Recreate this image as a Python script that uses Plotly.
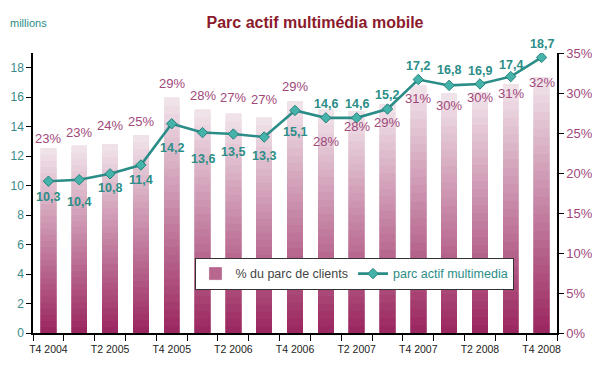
import plotly.graph_objects as go

# ---------------- data ----------------
quarters = ["T4 2004", "T1 2005", "T2 2005", "T3 2005", "T4 2005", "T1 2006", "T2 2006",
            "T3 2006", "T4 2006", "T1 2007", "T2 2007", "T3 2007", "T4 2007", "T1 2008",
            "T2 2008", "T3 2008", "T4 2008"]
tick_labels = ["T4 2004", "", "T2 2005", "", "T4 2005", "", "T2 2006", "", "T4 2006", "",
               "T2 2007", "", "T4 2007", "", "T2 2008", "", "T4 2008"]
pct_parc = [23.1, 23.4, 23.6, 24.7, 29.4, 27.9, 27.4, 26.9, 29.0, 27.9, 27.7, 28.6, 30.9,
            30.0, 30.1, 31.1, 32.0]
parc_multimedia = [10.3, 10.4, 10.8, 11.4, 14.2, 13.6, 13.5, 13.3, 15.1, 14.6, 14.6, 15.2,
                   17.2, 16.8, 16.9, 17.4, 18.7]

# ---------------- styles ----------------
pct_label_shift = [10, 13, 19, 14, 14, 14, 16, 18, 15, -32, -15, -18, -13, -12, -5, -9, -5]
line_label_shift = [-16, -22, -14, -15, -24, -26, -18, -19, -22, 14, 14, 14, 14, 15, 13, 12, 13]

TEAL = "#2b8d87"
MAUVE = "#a0487a"
N_SLICES = 30
top_rgb = (240, 226, 233)
bot_rgb = (155, 40, 96)

# page body has an 8px margin: figure is shrunk so the visible layout matches
W, H = 592, 364

fig = go.Figure()

# gradient bars: stacked slices of each bar, drawn through the bar scale
for k in range(N_SLICES):
    t = k / (N_SLICES - 1)
    c = "rgb(%d,%d,%d)" % tuple(round(bot_rgb[i] + (top_rgb[i] - bot_rgb[i]) * t) for i in range(3))
    fig.add_trace(go.Bar(
        x=quarters, y=[v / N_SLICES for v in pct_parc],
        marker=dict(color=c, line=dict(width=0.8, color=c)),
        width=0.5, yaxis="y",
        name="<span style='color:#444'>% du parc de clients</span>",
        showlegend=(k == 10), legendgroup="bars", hoverinfo="skip",
    ))

fig.add_trace(go.Scatter(
    x=quarters, y=parc_multimedia, yaxis="y2", mode="lines+markers",
    line=dict(color=TEAL, width=2.6),
    marker=dict(symbol="diamond", size=8, color="#45b3aa", line=dict(color="#26807a", width=1)),
    name="<span style='color:%s'>parc actif multimedia</span>" % TEAL,
))

annotations = []
for q, v, s in zip(quarters, pct_parc, pct_label_shift):
    annotations.append(dict(x=q, y=v, xref="x", yref="y", text="%d%%" % round(v),
                            showarrow=False, yshift=s,
                            font=dict(family="Liberation Sans, Arial", size=13, color=MAUVE)))
for q, v, s in zip(quarters, parc_multimedia, line_label_shift):
    annotations.append(dict(x=q, y=v, xref="x", yref="y2",
                            text="<b>" + ("%.1f" % v).replace(".", ",") + "</b>",
                            showarrow=False, yshift=s,
                            font=dict(family="Liberation Sans, Arial", size=12.5, color=TEAL)))
annotations.append(dict(x=-0.048, y=1.107, xref="paper", yref="paper", xanchor="left",
                        yanchor="middle", text="millions", showarrow=False,
                        font=dict(family="Liberation Sans, Arial", size=11, color=TEAL)))

fig.update_layout(
    width=W, height=H,
    margin=dict(l=25, r=43, t=45, b=39),
    paper_bgcolor="white", plot_bgcolor="white",
    barmode="stack",
    title=dict(text="<b>Parc actif multimédia mobile</b>", x=307 / W, xref="container",
               y=1 - 14 / H, yref="container", xanchor="center", yanchor="middle",
               font=dict(family="Liberation Sans, Arial", size=16, color="#8b1a2c")),
    xaxis=dict(type="category", tickmode="array", tickvals=quarters, ticktext=tick_labels,
               tickson="boundaries", ticks="outside", ticklen=6, tickcolor="black",
               tickangle=0, automargin=False, ticklabelstandoff=6,
               showline=True, linecolor="black", linewidth=1.5, showgrid=False,
               tickfont=dict(family="Liberation Sans, Arial", size=10.5, color="#222"),
               range=[-0.5, 16.5]),
    yaxis=dict(side="right", range=[0, 35], dtick=5, ticksuffix="%", ticks="outside",
               ticklen=5, tickcolor="black", showline=True, linecolor="black", linewidth=1.5,
               showgrid=False, zeroline=False, automargin=False,
               tickfont=dict(family="Liberation Sans, Arial", size=13, color=MAUVE)),
    yaxis2=dict(side="left", overlaying="y", range=[0, 19], dtick=2, ticks="outside",
                ticklen=5, tickcolor="black", showline=True, linecolor="black", linewidth=1.5,
                showgrid=False, zeroline=False, automargin=False,
                tickfont=dict(family="Liberation Sans, Arial", size=12, color="#3a8a88")),
    legend=dict(orientation="h", x=0.31, y=0.268, xanchor="left", yanchor="top",
                bordercolor="#333", borderwidth=1, bgcolor="white",
                font=dict(family="Liberation Sans, Arial", size=12.5)),
    annotations=annotations,
    showlegend=True,
)

fig.write_html("out.html")
